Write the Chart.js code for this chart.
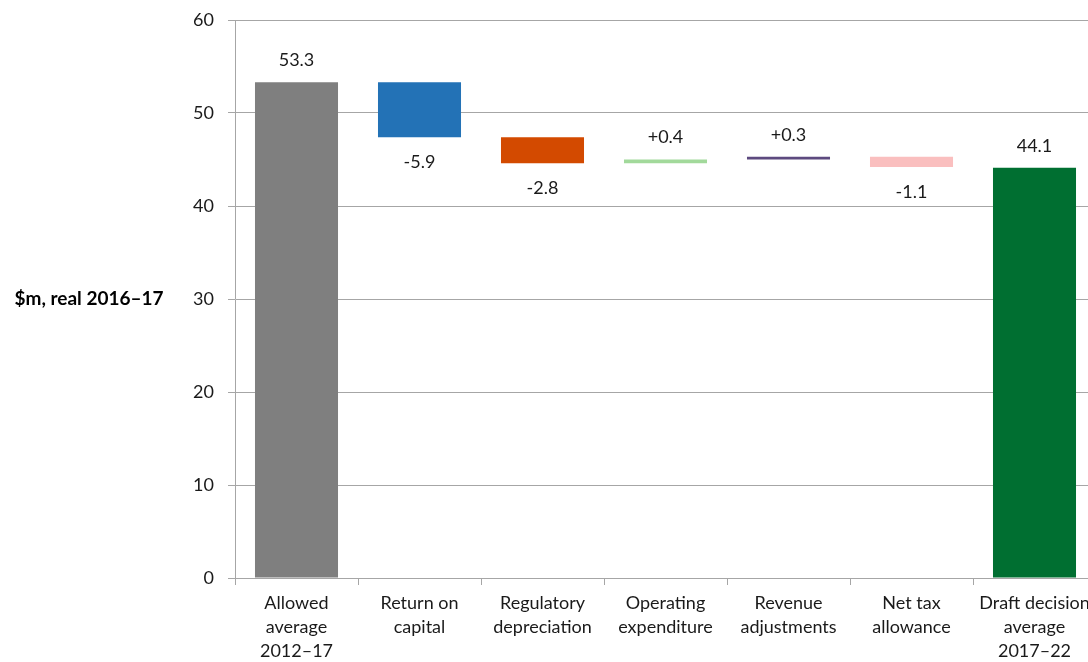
<!DOCTYPE html>
<html>
<head>
<meta charset="utf-8">
<script src="https://cdn.jsdelivr.net/npm/chart.js@4"></script>
<style>
  html, body { margin: 0; padding: 0; background: #fff; overflow: hidden; }
  #wrap { position: absolute; left: 0; top: 0; width: 1096px; height: 662px; }
</style>
</head>
<body>
<div id="wrap"><canvas id="waterfall" width="1096" height="662"></canvas></div>
<script>
var categories = [
  ['Allowed', 'average', '2012–17'],
  ['Return on', 'capital'],
  ['Regulatory', 'depreciation'],
  ['Operating', 'expenditure'],
  ['Revenue', 'adjustments'],
  ['Net tax', 'allowance'],
  ['Draft decision', 'average', '2017–22']
];
var opening = 53.3;
var changes = [-5.9, -2.8, 0.4, 0.3, -1.1];
var closing = 44.1;
var barColours = ['#7f7f7f', '#2372b6', '#d34a00', '#a2d99b', '#5d4a7f', '#fabfbf', '#006f31'];
var yTicks = [0, 10, 20, 30, 40, 50, 60];

// build floating [from, to] bars for the waterfall
var ranges = [[0, opening]];
var labels = [opening.toFixed(1)];
var level = opening;
changes.forEach(function (c) {
  var next = Math.round((level + c) * 10) / 10;
  ranges.push([level, next]);
  labels.push((c > 0 ? '+' : '') + c.toFixed(1));
  level = next;
});
ranges.push([0, closing]);
labels.push(closing.toFixed(1));

var FONT = 'Lato, "Open Sans", sans-serif';

var valueLabels = {
  id: 'valueLabels',
  afterDatasetsDraw: function (chart) {
    var ctx = chart.ctx;
    var meta = chart.getDatasetMeta(0);
    var y = chart.scales.y;
    ctx.save();
    ctx.font = '18px ' + FONT;
    ctx.fillStyle = '#1a1a1a';
    ctx.textAlign = 'center';
    meta.data.forEach(function (bar, i) {
      var r = ranges[i];
      var lo = Math.min(r[0], r[1]), hi = Math.max(r[0], r[1]);
      var down = r[1] < r[0];
      if (down) {
        ctx.textBaseline = 'top';
        ctx.fillText(labels[i], bar.x, y.getPixelForValue(lo) + 16);
      } else {
        ctx.textBaseline = 'bottom';
        ctx.fillText(labels[i], bar.x, y.getPixelForValue(hi) - 13);
      }
    });
    ctx.restore();
  }
};

var axisTitle = {
  id: 'axisTitle',
  afterDraw: function (chart) {
    var ctx = chart.ctx;
    var area = chart.chartArea;
    ctx.save();
    ctx.font = 'bold 19px ' + FONT;
    ctx.fillStyle = '#000';
    ctx.textAlign = 'center';
    ctx.textBaseline = 'middle';
    ctx.fillText('$m, real 2016–17', 89, (area.top + area.bottom) / 2);
    ctx.restore();
  }
};

new Chart(document.getElementById('waterfall'), {
  type: 'bar',
  data: {
    labels: categories,
    datasets: [{
      data: ranges,
      backgroundColor: barColours,
      borderWidth: 0,
      barPercentage: 0.675,
      categoryPercentage: 1
    }]
  },
  options: {
    responsive: false,
    animation: false,
    layout: { padding: { top: 20, right: 0, left: 0, bottom: 0 } },
    plugins: { legend: { display: false }, tooltip: { enabled: false } },
    scales: {
      x: {
        offset: true,
        grid: { offset: true, drawOnChartArea: false, drawTicks: true, tickLength: 7, color: '#a6a6a6' },
        border: { color: '#a6a6a6', width: 1 },
        ticks: { color: '#1a1a1a', font: { family: FONT, size: 18, lineHeight: 1.33 }, padding: 6, maxRotation: 0, autoSkip: false },
        afterFit: function (s) { s.height = 84; }
      },
      y: {
        min: 0,
        max: 60,
        afterBuildTicks: function (s) { s.ticks = yTicks.map(function (v) { return { value: v }; }); },
        grid: { color: '#a6a6a6', tickLength: 7, lineWidth: 1 },
        border: { color: '#a6a6a6', width: 1 },
        ticks: { color: '#1a1a1a', font: { family: FONT, size: 18, lineHeight: 0.3 }, padding: 14 },
        afterFit: function (s) { s.width = 235; }
      }
    }
  },
  plugins: [valueLabels, axisTitle]
});
</script>
</body>
</html>
